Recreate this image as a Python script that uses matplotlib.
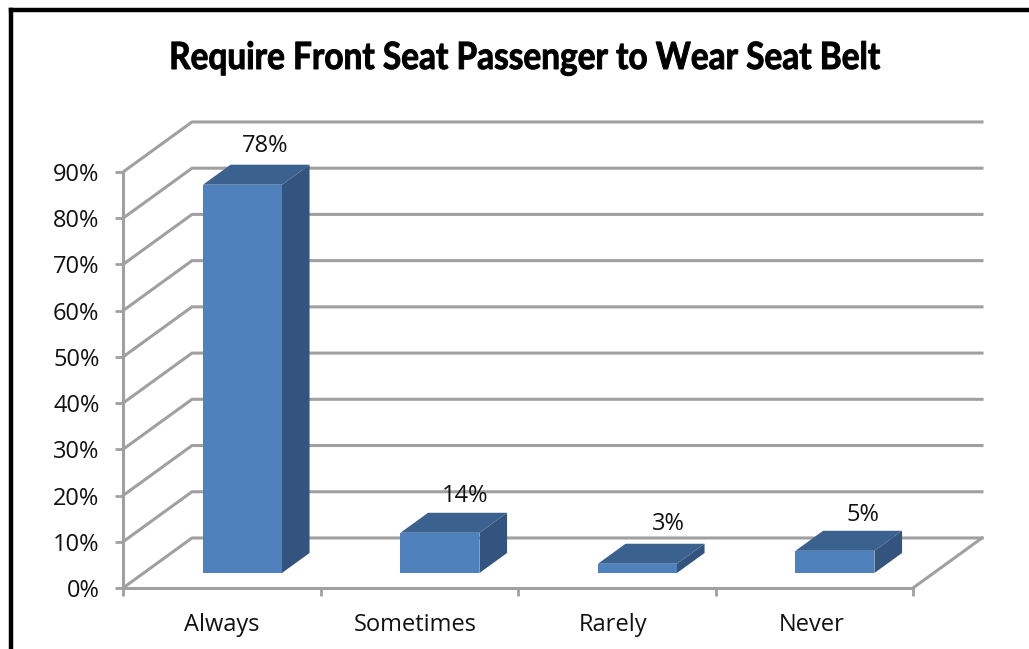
import numpy as np
import matplotlib
matplotlib.use("Agg")
import matplotlib.pyplot as plt
from matplotlib.patches import Polygon
from matplotlib.patheffects import AbstractPathEffect
from matplotlib.transforms import Affine2D

categories = ["Always", "Sometimes", "Rarely", "Never"]
bar_heights = [84, 8.7, 2, 4.8]  # as drawn, they do not follow the labels
bar_labels = ["78%", "14%", "3%", "5%"]
y_ticks = [0, 10, 20, 30, 40, 50, 60, 70, 80, 90]

W, H = 1029, 649
GRID = "#a0a0a0"
FRONT = "#4f81bd"
TOP = "#3b618f"
SIDE = "#33547e"
TXT = "#111111"

# depth of the fake 3d box, in data units
depth_x = 69 / 197.5
depth_y = 50 / 46.2
bar_w = 0.4
d0, d1 = 0.3, 0.7


def proj(x, y, d):
    return (x + depth_x * d, y + depth_y * 10 * d)


class Squeeze(AbstractPathEffect):
    # the title is set very tight and heavy in the original, no letter spacing in mpl
    def __init__(self, sx, cx, stroke):
        super().__init__()
        self.sx = sx
        self.cx = cx
        self.stroke = stroke

    def draw_path(self, renderer, gc, tpath, affine, rgbFace=None):
        t = affine + Affine2D().translate(-self.cx, 0).scale(self.sx, 1).translate(self.cx, 0)
        gc.set_foreground("black")
        gc.set_linewidth(self.stroke)
        renderer.draw_path(gc, tpath, t, rgbFace)


fig = plt.figure(figsize=(W / 100, H / 100), dpi=100)
ax = fig.add_axes([123 / W, 1 - 588 / H, 790 / W, 416 / H])
ax.set_xlim(0, 4)
ax.set_ylim(0, 90)

for s in ["top", "right"]:
    ax.spines[s].set_visible(False)
for s in ["left", "bottom"]:
    ax.spines[s].set_color(GRID)
    ax.spines[s].set_linewidth(2.2)

ax.set_yticks(y_ticks)
ax.set_yticklabels([f"{v}%" for v in y_ticks], fontsize=17, family="Open Sans", color=TXT)
for t in ax.get_yticklabels():
    t.set_va("center_baseline")
ax.tick_params(axis="y", length=6, width=2, color=GRID, pad=11)
ax.set_xticks(range(5))
ax.set_xticklabels([])
ax.tick_params(axis="x", length=6, width=2, color=GRID)
# category names are a few px left of the slot centres in the original
ax.set_xticks(np.arange(4) + 0.5 - np.array([0, 3.5, 4, 3]) / 197.5, minor=True)
ax.set_xticklabels(categories, minor=True, fontsize=17, family="Open Sans", color=TXT)
ax.tick_params(axis="x", which="minor", length=0, pad=18)

# walls and floor
for v in y_ticks:
    x1, y1 = proj(0, v, 1)
    x2, y2 = proj(4, v, 1)
    ax.plot([0, x1, x2], [v, y1, y2], color=GRID, lw=2.2, clip_on=False, zorder=1, solid_joinstyle="miter")
x1, y1 = proj(4, 0, 1)
ax.plot([4, x1], [0, y1], color=GRID, lw=2.2, clip_on=False, zorder=1)

# bars
nudge = [(-5, 22), (-2, 20), (3, 23), (0, 19)]  # labels sit a bit unevenly in the original, px
for i, h in enumerate(bar_heights):
    left = i + 0.5 - bar_w / 2
    right = i + 0.5 + bar_w / 2
    front = [proj(left, 0, d0), proj(right, 0, d0), proj(right, h, d0), proj(left, h, d0)]
    side = [proj(right, 0, d0), proj(right, 0, d1), proj(right, h, d1), proj(right, h, d0)]
    top = [proj(left, h, d0), proj(right, h, d0), proj(right, h, d1), proj(left, h, d1)]
    ax.add_patch(Polygon(side, fc=SIDE, ec="none", clip_on=False, zorder=3))
    ax.add_patch(Polygon(top, fc=TOP, ec="none", clip_on=False, zorder=3))
    ax.add_patch(Polygon(front, fc=FRONT, ec="none", clip_on=False, zorder=3))
    lx, ly = proj(i + 0.5, h, d1)
    ax.annotate(bar_labels[i], (lx, ly), xytext=(nudge[i][0] * 0.72, nudge[i][1] * 0.72),
                textcoords="offset points", ha="center", va="center_baseline", fontsize=17,
                family="Open Sans", color=TXT, annotation_clip=False, zorder=4)

fig.text(524 / W, 1 - 58 / H, "Require Front Seat Passenger to Wear Seat Belt",
         ha="center", va="center", fontsize=27, fontweight="bold", family="Lato", color="black",
         path_effects=[Squeeze(0.89, 524, 0.7)])

# black frame of the pasted picture
fig.add_artist(plt.Line2D([10.5 / W, 10.5 / W], [0, 1 - 10 / H], color="black", lw=3.2, solid_capstyle="projecting"))
fig.add_artist(plt.Line2D([10.5 / W, 1], [1 - 10 / H, 1 - 10 / H], color="black", lw=3.2))

fig.savefig("out.png", dpi=100)
